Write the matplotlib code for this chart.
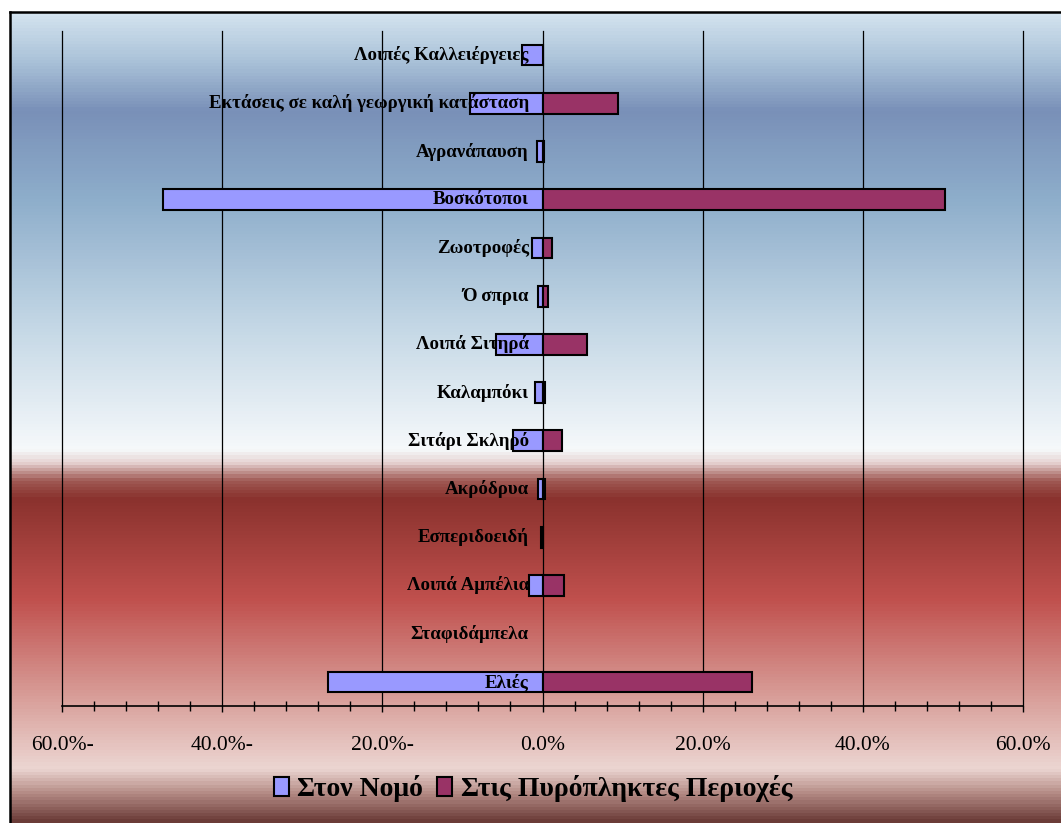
import numpy as np
import matplotlib.pyplot as plt
from matplotlib.colors import LinearSegmentedColormap
from matplotlib.lines import Line2D
from matplotlib.patches import Patch
from matplotlib.ticker import MultipleLocator, FuncFormatter

# κατηγορίες από πάνω προς τα κάτω
categories = ["Λοιπές Καλλειέργειες", "Εκτάσεις σε καλή γεωργική κατάσταση",
              "Αγρανάπαυση", "Βοσκότοποι", "Ζωοτροφές", "Ό σπρια",
              "Λοιπά Σιτηρά", "Καλαμπόκι", "Σιτάρι Σκληρό", "Ακρόδρυα",
              "Εσπεριδοειδή", "Λοιπά Αμπέλια", "Σταφιδάμπελα", "Ελιές"]
nomos = [-2.6, -9.0, -0.7, -47.4, -1.3, -0.6, -5.8, -0.9, -3.7, -0.6,
         -0.15, -1.7, 0.0, -26.8]
pyroplikta = [0.0, 9.4, 0.2, 50.3, 1.2, 0.7, 5.5, 0.3, 2.4, 0.3,
              0.0, 2.7, 0.0, 26.1]
series_names = ["Στον Νομό", "Στις Πυρόπληκτες Περιοχές"]

W, H = 1061, 823
fig = plt.figure(figsize=(W / 100, H / 100), dpi=100)

# φόντο με διαβάθμιση χρώματος
stops = [(0.0, "#d3e3ef"), (0.06, "#a9c1d8"), (0.12, "#7990b8"),
         (0.23, "#8eaecb"), (0.39, "#c5d8e6"), (0.54, "#f6f9fb"),
         (0.556, "#e6d2d1"), (0.578, "#a05a55"), (0.6, "#8a322e"),
         (0.725, "#c0504d"), (0.85, "#d9a09b"), (0.935, "#ecd6d2"),
         (0.965, "#b58c86"), (1.0, "#6b3c38")]
cmap = LinearSegmentedColormap.from_list("bg", stops)
bg = fig.add_axes([10 / W, 0, 1 - 10 / W, (H - 12) / H], zorder=0)
grad = np.linspace(0, 1, 811).reshape(-1, 1)
bg.imshow(grad, aspect="auto", cmap=cmap, extent=[0, 1, 0, 1], origin="upper")
bg.axis("off")
fig.add_artist(Line2D([10 / W, 10 / W], [0, (H - 12) / H], color="black", lw=1.8))
fig.add_artist(Line2D([10 / W, 1], [(H - 12) / H, (H - 12) / H], color="black", lw=1.8))

ax = fig.add_axes([62 / W, (H - 706) / H, 961 / W, 675 / H], zorder=1)
ax.set_facecolor("none")

y = np.arange(len(categories))
for yi, v in zip(y, nomos):
    if v != 0:
        ax.barh(yi, v, height=0.43, color="#9999ff", edgecolor="black", lw=1.5, zorder=3)
for yi, v in zip(y, pyroplikta):
    if v != 0:
        ax.barh(yi, v, height=0.43, color="#993366", edgecolor="black", lw=1.5, zorder=3)

for yi, name in zip(y, categories):
    ax.text(-1.7, yi, name, ha="right", va="center", fontsize=13.6,
            fontweight="bold", family="Liberation Serif", zorder=4)

ax.set_xlim(-60, 60)
ax.set_ylim(len(categories) - 0.5, -0.5)
ax.set_yticks([])
ax.xaxis.set_major_locator(MultipleLocator(20))
ax.xaxis.set_minor_locator(MultipleLocator(4))
ax.xaxis.set_major_formatter(FuncFormatter(
    lambda v, p: "0.0%" if abs(v) < 1e-9 else (f"{abs(v):.1f}%-" if v < 0 else f"{v:.1f}%")))
ax.tick_params(axis="x", which="major", direction="out", length=4.5, width=1, pad=17, labelsize=15.5)
ax.tick_params(axis="x", which="minor", direction="inout", length=7, width=1)
for lab in ax.get_xticklabels():
    lab.set_family("Liberation Serif")
ax.xaxis.grid(True, which="major", color="black", lw=0.9, zorder=1)
for gl in ax.get_xgridlines():
    gl.set_clip_on(False)
for s in ["top", "left", "right"]:
    ax.spines[s].set_visible(False)
ax.spines["bottom"].set_linewidth(1.2)

handles = [Patch(facecolor="#9999ff", edgecolor="black", lw=1.5),
           Patch(facecolor="#993366", edgecolor="black", lw=1.5)]
fig.legend(handles, series_names, loc="center", bbox_to_anchor=(533 / W, (H - 789) / H),
           ncol=2, frameon=False, handlelength=0.55, handleheight=0.65, handletextpad=0.3,
           columnspacing=0.5, prop={"family": "Liberation Serif", "weight": "bold", "size": 20})

fig.savefig("out.png", dpi=100)
